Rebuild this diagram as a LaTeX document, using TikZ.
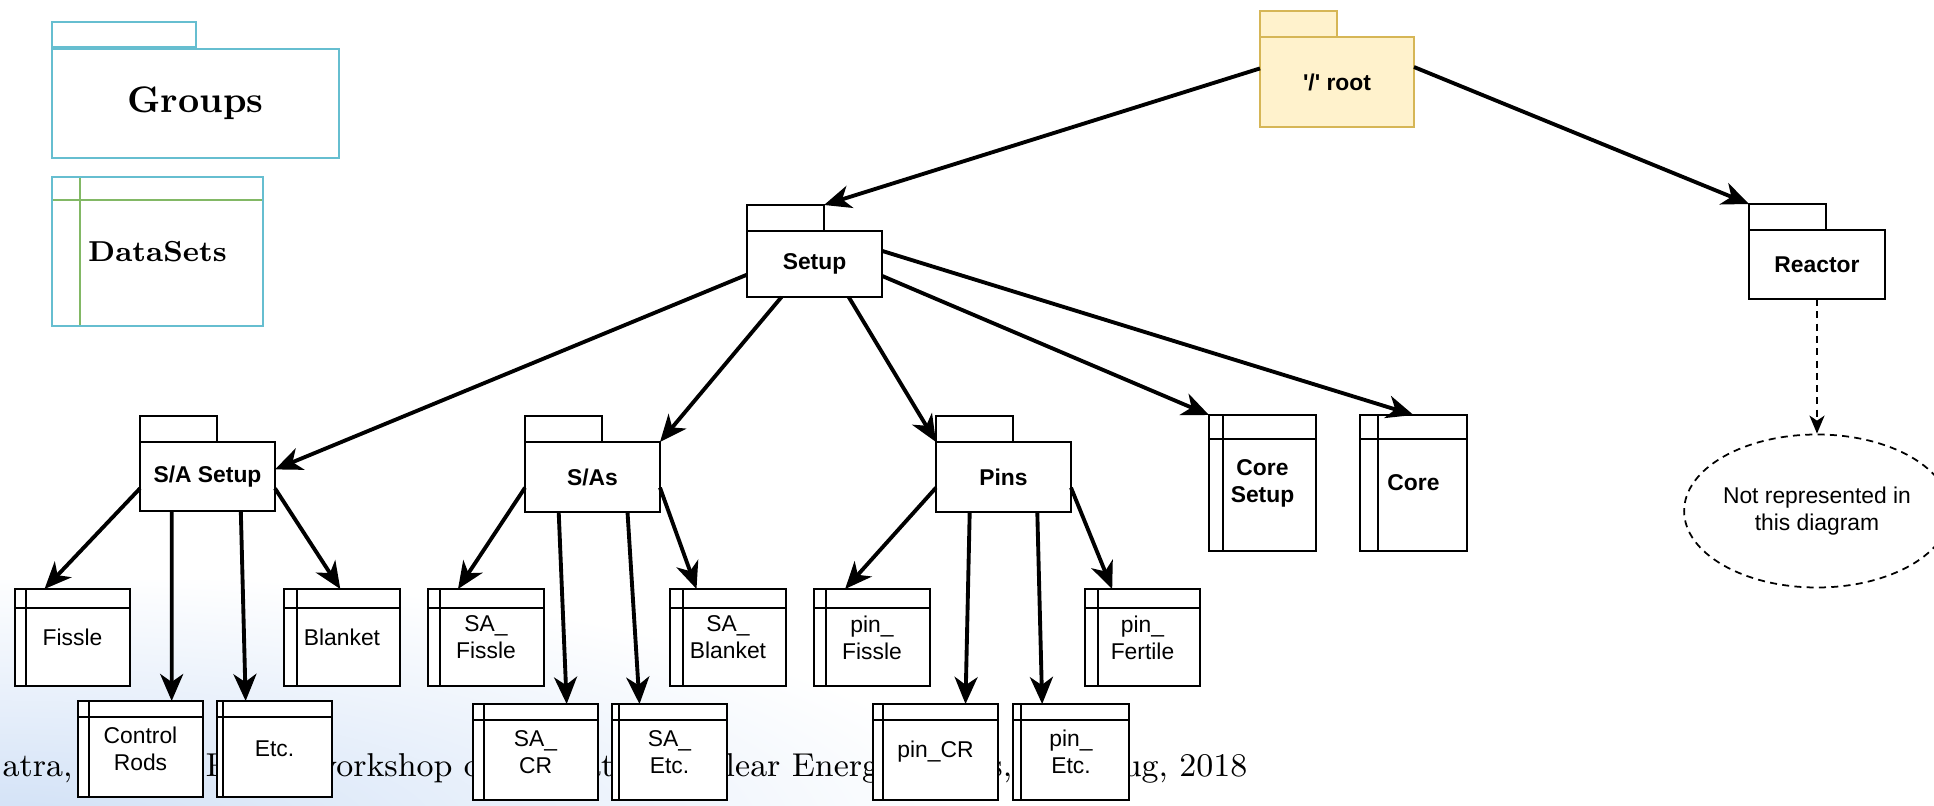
\documentclass[tikz,border=0pt]{standalone}
\usepackage{fontspec}
\setsansfont{Liberation Sans}
\usetikzlibrary{arrows.meta,shapes.geometric}
\definecolor{legendblue}{RGB}{102,190,208}
\definecolor{legendgreen}{RGB}{130,184,101}
\definecolor{rootfill}{RGB}{255,242,204}
\definecolor{rootline}{RGB}{214,182,86}
\definecolor{slideblue}{RGB}{208,224,246}
\tikzset{
	pkg/.style={draw, fill=white, line width=0.5pt, inner sep=0, outer sep=0,
		minimum width=1.35cm, minimum height=0.68cm,
		font=\sffamily\bfseries\fontsize{6.5}{7.7}\selectfont, align=center},
	tab/.style={draw, fill=white, line width=0.5pt, inner sep=0, outer sep=0,
		minimum width=0.77cm, minimum height=0.26cm, anchor=south west},
	ds/.style 2 args={draw, fill=white, line width=0.5pt, inner sep=0, outer sep=0,
		font=\sffamily\fontsize{6.5}{7.7}\selectfont, align=center,
		path picture={
			\draw[line width=0.5pt] ([yshift=-#2]path picture bounding box.north west) -- ([yshift=-#2]path picture bounding box.north east);
			\draw[line width=0.5pt] ([xshift=#1]path picture bounding box.north west) -- ([xshift=#1]path picture bounding box.south west);}},
	conn/.style={-{Stealth[length=0.27cm, width=0.23cm, inset=0.08cm]}, line width=1.1pt},
	dconn/.style={-{Stealth[length=0.18cm, width=0.15cm, inset=0.05cm]}, line width=0.5pt, dash pattern=on 2pt off 1.5pt},
	foot/.style={inner sep=0, font=\rmfamily\fontsize{9.4}{11}\selectfont}
}
\begin{document}
\begin{tikzpicture}
	\useasboundingbox (0,0) rectangle (19.34,-8.06);
	% slide background and footer
	\begin{scope}
		\clip (0,-5.8) rectangle (19.34,-8.06);
		\shade[inner color=slideblue, outer color=white] (0,-8.3) ellipse (10 and 2.6);
	\end{scope}
	\node[foot, anchor=base west] (foot1) at (0.02,-7.76) {atra, J};
	\node[foot, anchor=base west] (foot2) at (2.05,-7.76) {P.};
	\node[foot, anchor=base west] (foot3) at (3.12,-7.76) {workshop o};
	\node[foot, anchor=base east] (foot4) at (6.15,-7.76) {at};
	\node[foot, anchor=base west] (foot5) at (7.25,-7.76) {lear Energy};
	\node[foot, anchor=base east] (foot6) at (10.13,-7.76) {s,};
	\node[foot, anchor=base east] (foot7) at (12.48,-7.76) {Aug, 2018};

	% legend
	\node[draw=legendblue, line width=0.5pt, minimum width=2.87cm, minimum height=1.09cm, inner sep=0,
		font=\rmfamily\bfseries\fontsize{10.5}{12}\selectfont] (groups) at (1.955,-1.035) {Groups};
	\node[draw=legendblue, line width=0.5pt, minimum width=1.44cm, minimum height=0.25cm, inner sep=0, anchor=south west] (groupstab) at (groups.north west) {};
	\node[draw=legendblue, line width=0.5pt, minimum width=2.11cm, minimum height=1.49cm, inner sep=0,
		font=\rmfamily\bfseries\fontsize{8.2}{10}\selectfont,
		path picture={
			\draw[legendgreen, line width=0.5pt] ([yshift=-0.23cm]path picture bounding box.north west) -- ([yshift=-0.23cm]path picture bounding box.north east);
			\draw[legendgreen, line width=0.5pt] ([xshift=0.28cm]path picture bounding box.north west) -- ([xshift=0.28cm]path picture bounding box.south west);}] (datasets) at (1.575,-2.515) {DataSets};

	% groups
	\node[pkg, draw=rootline, fill=rootfill, minimum width=1.54cm, minimum height=0.90cm] (root) at (13.37,-0.82) {\textquotesingle/\textquotesingle\ root};
	\node[tab, draw=rootline, fill=rootfill] (roottab) at (root.north west) {};
	\node[pkg, minimum height=0.66cm] (setup) at (8.145,-2.64) {Setup};
	\node[tab] (setuptab) at (setup.north west) {};
	\node[pkg, minimum width=1.36cm, minimum height=0.69cm] (reactor) at (18.17,-2.645) {Reactor};
	\node[tab] (reactortab) at (reactor.north west) {};
	\node[pkg, minimum height=0.69cm] (sasetup) at (2.075,-4.765) {S/A Setup};
	\node[tab] (sasetuptab) at (sasetup.north west) {};
	\node[pkg, minimum height=0.70cm] (sas) at (5.925,-4.77) {S/As};
	\node[tab] (sastab) at (sas.north west) {};
	\node[pkg, minimum height=0.70cm] (pins) at (10.035,-4.77) {Pins};
	\node[tab] (pinstab) at (pins.north west) {};

	% datasets
	\node[ds={0.14cm}{0.24cm}, minimum width=1.07cm, minimum height=1.36cm, font=\sffamily\bfseries\fontsize{6.5}{7.7}\selectfont] (coresetup) at (12.625,-4.83) {Core\\Setup};
	\node[ds={0.18cm}{0.24cm}, minimum width=1.07cm, minimum height=1.36cm, font=\sffamily\bfseries\fontsize{6.5}{7.7}\selectfont] (core) at (14.135,-4.83) {Core};

	\node[ds={0.11cm}{0.19cm}, minimum width=1.15cm, minimum height=0.97cm] (fissle) at (0.725,-6.375) {Fissle};
	\node[ds={0.13cm}{0.19cm}, minimum width=1.16cm, minimum height=0.97cm] (blanket) at (3.42,-6.375) {Blanket};
	\node[ds={0.11cm}{0.16cm}, minimum width=1.25cm, minimum height=0.96cm] (ctrlrods) at (1.405,-7.49) {Control\\Rods};
	\node[ds={0.06cm}{0.16cm}, minimum width=1.15cm, minimum height=0.96cm] (etc) at (2.745,-7.49) {Etc.};

	\node[ds={0.12cm}{0.19cm}, minimum width=1.16cm, minimum height=0.97cm] (safissle) at (4.86,-6.375) {SA\_\\Fissle};
	\node[ds={0.13cm}{0.19cm}, minimum width=1.16cm, minimum height=0.97cm] (sablanket) at (7.28,-6.375) {SA\_\\Blanket};
	\node[ds={0.11cm}{0.16cm}, minimum width=1.25cm, minimum height=0.96cm] (sacr) at (5.355,-7.52) {SA\_\\CR};
	\node[ds={0.07cm}{0.16cm}, minimum width=1.15cm, minimum height=0.96cm] (saetc) at (6.695,-7.52) {SA\_\\Etc.};

	\node[ds={0.12cm}{0.19cm}, minimum width=1.16cm, minimum height=0.97cm] (pinfissle) at (8.72,-6.375) {pin\_\\Fissle};
	\node[ds={0.13cm}{0.19cm}, minimum width=1.15cm, minimum height=0.97cm] (pinfertile) at (11.425,-6.375) {pin\_\\Fertile};
	\node[ds={0.10cm}{0.16cm}, minimum width=1.25cm, minimum height=0.96cm] (pincr) at (9.355,-7.52) {pin\_CR};
	\node[ds={0.08cm}{0.16cm}, minimum width=1.16cm, minimum height=0.96cm] (pinetc) at (10.71,-7.52) {pin\_\\Etc.};

	\node[ellipse, draw, line width=0.5pt, dash pattern=on 2pt off 1.5pt, minimum width=2.30cm, minimum height=1.53cm, inner sep=0,
		font=\sffamily\fontsize{6.5}{7.7}\selectfont, align=center] (note) at (18.17,-5.11) {Not represented in\\this diagram};

	% connectors
	\draw[conn] (root.170) -- (setuptab.north east);
	\draw[conn] (root.11) -- (reactortab.north west);
	\draw[dconn] (reactor.south) -- (note.north);

	\draw[conn] (setup.189) -- (sasetup.6);
	\draw[conn] (setup.225) -- (sas.north east);
	\draw[conn] (setup.316) -- (pins.north west);
	\draw[conn] (setup.350) -- (coresetup.north west);
	\draw[conn] (setup.11) -- (core.north);

	\draw[conn] (sasetup.190) -- (fissle.120);
	\draw[conn] (sasetup.224) -- (ctrlrods.57);
	\draw[conn] (sasetup.314) -- (etc.121);
	\draw[conn] (sasetup.350) -- (blanket.92);

	\draw[conn] (sas.189) -- (safissle.120);
	\draw[conn] (sas.226) -- (sacr.57);
	\draw[conn] (sas.315) -- (saetc.122);
	\draw[conn] (sas.351) -- (sablanket.123);

	\draw[conn] (pins.189) -- (pinfissle.119);
	\draw[conn] (pins.226) -- (pincr.58);
	\draw[conn] (pins.314) -- (pinetc.121);
	\draw[conn] (pins.351) -- (pinfertile.122);
\end{tikzpicture}
\end{document}
